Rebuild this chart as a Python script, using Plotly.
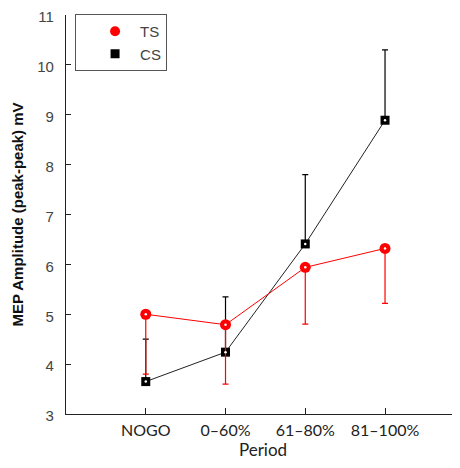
import plotly.graph_objects as go

periods = ["NOGO", "0\u201360%", "61\u201380%", "81\u2013100%"]
ts_mean = [5.0, 4.79, 5.94, 6.32]
ts_err_minus = [1.2, 1.19, 1.14, 1.1]
cs_mean = [3.65, 4.24, 6.41, 8.89]
cs_err_plus = [0.85, 1.11, 1.39, 1.41]

TS_RED = "#ff0000"
CS_BLACK = "#000000"

fig = go.Figure()
fig.add_trace(go.Scatter(
    x=periods, y=cs_mean, name="CS", mode="lines+markers", showlegend=False,
    line=dict(color="#222222", width=1),
    marker=dict(symbol="square", size=9, color=CS_BLACK),
    error_y=dict(type="data", symmetric=False, array=cs_err_plus,
                 arrayminus=[0] * len(cs_mean), color="black", thickness=1.2, width=3),
))
fig.add_trace(go.Scatter(
    x=periods, y=ts_mean, name="TS", mode="lines+markers", showlegend=False,
    line=dict(color=TS_RED, width=1),
    marker=dict(symbol="circle", size=11, color=TS_RED),
    error_y=dict(type="data", symmetric=False, array=[0] * len(ts_mean),
                 arrayminus=ts_err_minus, color=TS_RED, thickness=1.2, width=3),
))
# white centre dots of the markers
fig.add_trace(go.Scatter(x=periods, y=cs_mean, mode="markers", showlegend=False,
                         hoverinfo="skip", marker=dict(size=2.5, color="white")))
fig.add_trace(go.Scatter(x=periods, y=ts_mean, mode="markers", showlegend=False,
                         hoverinfo="skip", marker=dict(size=2.5, color="white")))
# legend entries (markers only)
fig.add_trace(go.Scatter(x=[None], y=[None], name="TS", mode="markers",
                         marker=dict(symbol="circle", size=10, color=TS_RED)))
fig.add_trace(go.Scatter(x=[None], y=[None], name="CS", mode="markers",
                         marker=dict(symbol="square", size=9, color=CS_BLACK)))

fig.update_layout(
    width=452, height=460,
    margin=dict(l=58, r=0, t=7, b=54),
    paper_bgcolor="white", plot_bgcolor="white",
    font=dict(family="Liberation Sans, Arial, sans-serif", color="#444444", size=15),
    showlegend=True,
    legend=dict(x=0.023, y=1.0025, xanchor="left", yanchor="top",
                bordercolor="#555555", borderwidth=1, tracegroupgap=0,
                bgcolor="white", indentation=14, itemwidth=40,
                font=dict(size=15, color="#444444")),
)
fig.update_xaxes(
    type="category", range=[-1, 3.94], automargin=False,
    showline=True, linecolor="#222222", linewidth=1.2,
    ticks="inside", ticklen=6, tickcolor="#222222",
    showgrid=False, zeroline=False,
    tickfont=dict(family="Lato, Open Sans, sans-serif", size=16, color="#222222"),
    ticklabelstandoff=2,
    title=dict(text="Period", standoff=4,
               font=dict(family="Lato, Open Sans, sans-serif", size=17, color="#222222")),
)
fig.update_yaxes(
    range=[3, 11], dtick=1, automargin=False, ticklabeloverflow="allow",
    ticklabelshift=2,
    showline=True, linecolor="#222222", linewidth=1.2,
    ticks="inside", ticklen=5, tickcolor="#222222",
    showgrid=False, zeroline=False,
    tickfont=dict(size=15, color="#444444"),
    ticklabelstandoff=8,
    title=dict(text="<b>MEP Amplitude (peak-peak) mV</b>", standoff=9,
               font=dict(family="Liberation Sans, Arial, sans-serif", size=15, color="#111111")),
)

fig.write_html("out.html")
